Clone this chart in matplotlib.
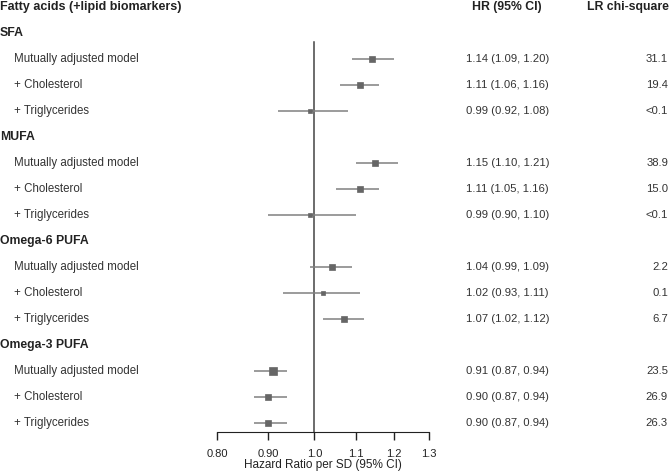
import numpy as np
import matplotlib.pyplot as plt
import matplotlib.transforms as mtransforms

plt.rcParams["font.family"] = ["Liberation Sans", "DejaVu Sans"]

groups = ["SFA", "MUFA", "Omega-6 PUFA", "Omega-3 PUFA"]
models = ["Mutually adjusted model", "+ Cholesterol", "+ Triglycerides"]

hr = [1.14, 1.11, 0.99, 1.15, 1.11, 0.99, 1.04, 1.02, 1.07, 0.91, 0.90, 0.90]
lo = [1.09, 1.06, 0.92, 1.10, 1.05, 0.90, 0.99, 0.93, 1.02, 0.87, 0.87, 0.87]
hi = [1.20, 1.16, 1.08, 1.21, 1.16, 1.10, 1.09, 1.11, 1.12, 0.94, 0.94, 0.94]
hr_text = ["1.14 (1.09, 1.20)", "1.11 (1.06, 1.16)", "0.99 (0.92, 1.08)",
           "1.15 (1.10, 1.21)", "1.11 (1.05, 1.16)", "0.99 (0.90, 1.10)",
           "1.04 (0.99, 1.09)", "1.02 (0.93, 1.11)", "1.07 (1.02, 1.12)",
           "0.91 (0.87, 0.94)", "0.90 (0.87, 0.94)", "0.90 (0.87, 0.94)"]
lr_chi = ["31.1", "19.4", "<0.1", "38.9", "15.0", "<0.1",
          "2.2", "0.1", "6.7", "23.5", "26.9", "26.3"]
# marker box size (weight) per estimate, in points
weights = [4.7, 4.2, 2.7, 4.7, 3.7, 2.5, 4.0, 2.2, 3.8, 5.2, 5.0, 5.0]

ticks = [0.80, 0.90, 1.0, 1.1, 1.2, 1.3]
tick_labels = ["0.80", "0.90", "1.0", "1.1", "1.2", "1.3"]

W, H = 669, 472
fig = plt.figure(figsize=(W / 100, H / 100), dpi=100)

step = 26.0
top_px = 7.0
axis_px = 432.0
ax = fig.add_axes([217 / W, 1 - axis_px / H, (429 - 217) / W, axis_px / H])
# y in row units: row k sits at pixel top_px + step*k
ax.set_ylim((axis_px - top_px) / step, (0 - top_px) / step)

ax.set_xscale("log")
ax.set_xlim(0.8, 1.3)
ax.set_xticks(ticks)
ax.set_xticklabels(tick_labels)
ax.xaxis.set_minor_locator(plt.NullLocator())
ax.tick_params(axis="x", direction="out", length=6, width=1, labelsize=8,
               colors="#222222", pad=6)
ax.set_yticks([])
for s in ["top", "left", "right"]:
    ax.spines[s].set_visible(False)
ax.spines["bottom"].set_color("#222222")
ax.patch.set_visible(False)
fig.text(323 / W, 1 - 465 / H, "Hazard Ratio per SD (95% CI)", fontsize=8.5,
         ha="center", va="center", color="#222222")

ax.axvline(1.0, ymin=0, ymax=(axis_px - 42) / axis_px, color="#444444", lw=1.1)

trans = mtransforms.blended_transform_factory(fig.transFigure, ax.transData)
fs = 8.3
fb = 8.8
ax.text(0 / W, 0, "Fatty acids (+lipid biomarkers)", transform=trans,
        fontsize=9.0, fontweight="bold", va="center", ha="left", color="#222222")
ax.text(507 / W, 0, "HR (95% CI)", transform=trans, fontsize=fb,
        fontweight="bold", va="center", ha="center", color="#222222")
ax.text(669 / W, 0, "LR chi-square", transform=trans, fontsize=fb,
        fontweight="bold", va="center", ha="right", color="#222222")

row = 1
i = 0
for g in groups:
    ax.text(0 / W, row, g, transform=trans, fontsize=fb, fontweight="bold",
            va="center", ha="left", color="#222222")
    row += 1
    for m in models:
        ax.text(14 / W, row, m, transform=trans, fontsize=fs,
                va="center", ha="left", color="#333333")
        ax.text(466 / W, row, hr_text[i], transform=trans, fontsize=8.1,
                va="center", ha="left", color="#333333")
        ax.text(668 / W, row, lr_chi[i], transform=trans, fontsize=8.1,
                va="center", ha="right", color="#333333")
        ax.plot([lo[i], hi[i]], [row, row], color="#808080", lw=1.1,
                solid_capstyle="butt", clip_on=False)
        ax.plot(hr[i], row, marker="s", ms=weights[i], color="#666666",
                mec="#666666", mew=0.5, clip_on=False)
        row += 1
        i += 1

fig.savefig("out.png", dpi=100)
